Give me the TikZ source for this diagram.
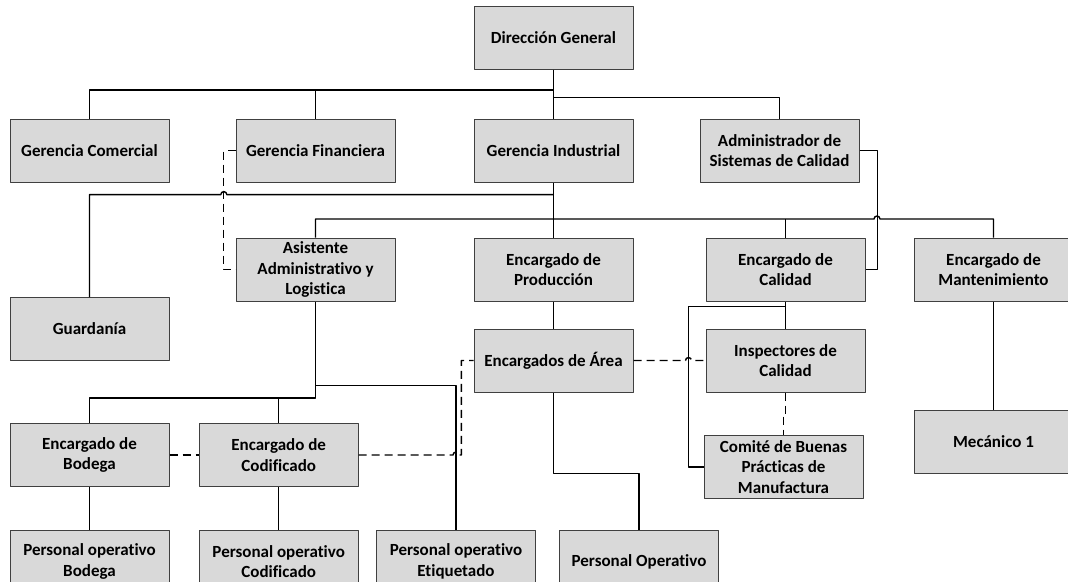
\documentclass[tikz,border=0pt]{standalone}
\usepackage{fontspec}
\setmainfont{Carlito}[Ligatures=NoCommon]
\usetikzlibrary{positioning,calc}

\begin{document}
\begin{tikzpicture}[x=1pt,y=-1pt, line join=round,
  puesto/.style={draw=black!75, fill=black!15, line width=1pt, minimum width=159pt, minimum height=63pt, inner sep=1pt, align=center, font=\bfseries\fontsize{17}{20.7}\selectfont},
  linea/.style={line width=1.4pt},
  enlace/.style={line width=1.4pt, dash pattern=on 8pt off 5pt}]
\path[use as bounding box, fill=white] (0,0) rectangle (1068,581);
\node[puesto] (dg)     at (553.5,37.5)  {Dirección General};
\node[puesto] (gcom)   at (89.5,150.5)  {Gerencia Comercial};
\node[puesto] (gfin)   at (315.5,150.5) {Gerencia Financiera};
\node[puesto] (gind)   at (553.5,150.5) {Gerencia Industrial};
\node[puesto] (asc)    at (779.5,150.5) {Administrador de\\Sistemas de Calidad};
\node[puesto] (asis)   at (315.5,269.5) {Asistente\\Administrativo y\\Logistica};
\node[puesto] (eprod)  at (553.5,269.5) {Encargado de\\Producción};
\node[puesto] (ecal)   at (785.5,269.5) {Encargado de\\Calidad};
\node[puesto] (emant)  at (993.5,269.5) {Encargado de\\Mantenimiento};
\node[puesto] (guard)  at (89.5,329)    {Guardanía};
\node[puesto] (earea)  at (553.5,360.5) {Encargados de Área};
\node[puesto] (insp)   at (785.5,360.5) {Inspectores de\\Calidad};
\node[puesto] (comite) at (783.5,467)   {Comité de Buenas\\Prácticas de\\Manufactura};
\node[puesto] (meca)   at (993.5,441.8) {Mecánico 1};
\node[puesto] (ebod)   at (89.5,455)    {Encargado de\\Bodega};
\node[puesto] (ecod)   at (278.7,455)   {Encargado de\\Codificado};
\node[puesto] (pob)    at (89.5,561.5)  {Personal operativo\\Bodega};
\node[puesto] (poc)    at (278.7,561.5) {Personal operativo\\Codificado};
\node[puesto] (poe)    at (456,561.5)   {Personal operativo\\Etiquetado};
\node[puesto] (pop)    at (639,561.5)   {Personal Operativo};
\coordinate (b1) at (553.5,90);
\coordinate (b2) at (553.5,97.5);
\coordinate (b3) at (553.5,194.6);
\coordinate (b4) at (553.5,219);
\coordinate (b5) at (315.5,385.7);
\coordinate (b6) at (315.5,398);
\coordinate (b7) at (785.5,306.5);
\coordinate (b8) at (688.5,306.5);
\coordinate (s1) at (223.8,194.6);
\coordinate (s2) at (877,219);
\coordinate (s3) at (456,455);
\coordinate (s4) at (688.5,360.5);
\coordinate (q1) at (461.4,455);
\draw[linea] (dg) -- (gind);
\draw[linea] (gind) -- (eprod);
\draw[linea] (gcom.north) |- (b1);
\draw[linea] (gfin.north) -- (gfin.north |- b1);
\draw[linea] (b2) -| (asc.north);
\draw[linea] (b3) -- ($(s1)+(3,0)$) arc[start angle=0,end angle=180,radius=3pt] -- (guard.north |- b3) -- (guard.north);
\draw[linea] (asis.north) |- (b4) -- ($(s2)+(-3,0)$) arc[start angle=180,end angle=0,radius=3pt] -- (emant.north |- b4) -- (emant.north);
\draw[linea] (ecal.north) -- (ecal.north |- b4);
\draw[linea] (asc.east) -- ++(18,0) |- (ecal.east);
\draw[enlace] (gfin.west) -- ++(-12,0) |- (asis.west);
\draw[linea] (asis.south) -- (b6) -| (ebod.north);
\draw[linea] (b5) -| (poe.north);
\draw[linea] (ecod.north) -- (ecod.north |- b6);
\draw[linea] (ebod) -- (pob);
\draw[linea] (ecod) -- (poc);
\draw[enlace] (ebod) -- (ecod);
\draw[enlace] (ecod.east) -- ($(s3)+(-3,0)$) arc[start angle=180,end angle=0,radius=3pt] -- (q1) |- (earea.west);
\draw[linea] (eprod) -- (earea);
\draw[linea] (earea.south) -- ++(0,81) -| (pop.north);
\draw[linea] (ecal) -- (insp);
\draw[linea] (b7) -- (b8) |- (comite.west);
\draw[enlace] (insp.south) -- ++(0,21) -| (comite.north);
\draw[enlace] (earea.east) -- ($(s4)+(-3,0)$) arc[start angle=180,end angle=0,radius=3pt] -- (insp.west);
\draw[linea] (emant) -- (meca);
\end{tikzpicture}
\end{document}
